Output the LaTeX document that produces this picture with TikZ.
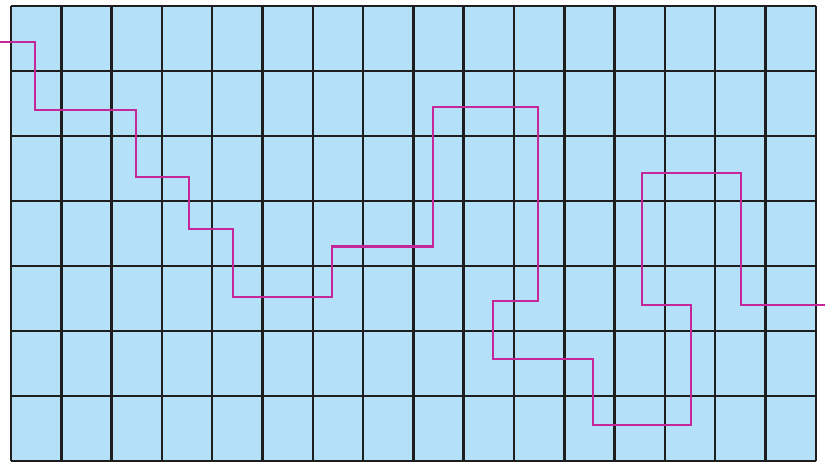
\documentclass[tikz,border=0pt]{standalone}
\usepackage{tikz}
\definecolor{cellblue}{HTML}{B4E1F8}
\definecolor{routepink}{HTML}{C4279A}
\definecolor{gridblack}{HTML}{1E1E1E}

\begin{document}
\begin{tikzpicture}[x=2.515cm, y=-3.25cm,
    gridline/.style={draw=gridblack, line width=3.6pt},
    route/.style={draw=routepink, line width=3.2pt, line join=miter}]
  \useasboundingbox (-0.219,-0.092) rectangle (16.183,7.015);
  \fill[white] (-0.219,-0.092) rectangle (16.183,7.015);
  \fill[cellblue] (0,0) rectangle (16,7);
  % grid
  \foreach \i in {0,...,16}
    \draw[gridline] (\i,0) -- (\i,7);
  \foreach \j in {0,...,7}
    \draw[gridline] (0,\j) -- (16,\j);
  % route through the grid
  \draw[route] (-0.25,0.554) -| (0.477,1.6) -| (2.485,2.63) -| (3.54,3.43)
    -| (4.41,4.477) -| (6.38,3.70) -| (8.39,1.554) -| (10.48,4.54)
    -| (9.58,5.43) -| (11.57,6.45) -| (13.52,4.6) -| (12.54,2.57)
    -| (14.51,4.6) -- (16.25,4.6);
\end{tikzpicture}
\end{document}
